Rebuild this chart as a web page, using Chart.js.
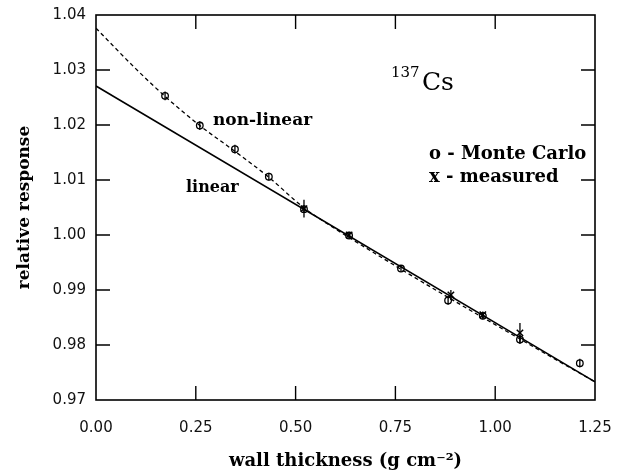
<!DOCTYPE html>
<html><head><meta charset="utf-8">
<script src="https://cdn.jsdelivr.net/npm/chart.js@4"></script>
<style>html,body{margin:0;padding:0;background:#fff}</style>
</head><body>
<canvas id="c" width="620" height="474"></canvas>
<script>
// ---- data ----
const xTickValues = [0, 0.25, 0.5, 0.75, 1.0, 1.25];
const yTickValues = [0.97, 0.98, 0.99, 1.00, 1.01, 1.02, 1.03, 1.04];

const mcThickness = [0.173, 0.26, 0.348, 0.433, 0.521, 0.634, 0.764, 0.882, 0.969, 1.062, 1.212];
const mcResponse  = [1.0253, 1.0199, 1.0156, 1.0106, 1.0047, 0.9999, 0.9939, 0.9881, 0.9853, 0.9810, 0.9767];
const mcError     = [0.0008, 0.0008, 0.0008, 0.0007, 0.0007, 0.0006, 0.0006, 0.0008, 0.0006, 0.0008, 0.0008];

const measThickness = [0.521, 0.634, 0.889, 0.969, 1.062];
const measResponse  = [1.0048, 1.0000, 0.9891, 0.9855, 0.9822];
const measError     = [0.0016, 0.0006, 0.0009, 0.0006, 0.0018];

const linearThickness = [0, 1.25];
const linearResponse  = [1.0271, 0.9733];

const nonLinearThickness = [0, 0.1, 0.173, 0.26, 0.35, 0.433, 0.52, 0.6, 0.7, 0.8, 0.9, 1.0, 1.1, 1.25];
const nonLinearResponse  = [1.0376, 1.0302, 1.0252, 1.0199, 1.0151, 1.0105, 1.0050, 1.0011, 0.9966, 0.9922, 0.9879, 0.9837, 0.9795, 0.9733];

const xTitle = 'wall thickness (g cm\u207B\u00B2)';
const yTitle = 'relative response';

const toPts = (xs, ys) => xs.map((x, i) => ({x: x, y: ys[i]}));

const framePlugin = {
  id: 'frame',
  afterDatasetsDraw(chart) {
    const {ctx, chartArea: a, scales: {x, y}} = chart;
    ctx.save();
    // error bars
    chart.data.datasets.forEach((ds) => {
      if (!ds.errors) return;
      ctx.strokeStyle = '#000';
      ctx.lineWidth = 1.3;
      ctx.beginPath();
      ds.data.forEach((p, j) => {
        const px = x.getPixelForValue(p.x);
        ctx.moveTo(px, y.getPixelForValue(p.y + ds.errors[j]));
        ctx.lineTo(px, y.getPixelForValue(p.y - ds.errors[j]));
      });
      ctx.stroke();
    });
    // frame
    ctx.strokeStyle = '#000';
    ctx.lineWidth = 1.6;
    ctx.strokeRect(a.left, a.top, a.right - a.left, a.bottom - a.top);
    // inward ticks on all four sides
    ctx.lineWidth = 1.4;
    ctx.beginPath();
    const L = 14;
    x.ticks.forEach(t => {
      const px = x.getPixelForValue(t.value);
      if (px <= a.left + 1 || px >= a.right - 1) return;
      ctx.moveTo(px, a.bottom); ctx.lineTo(px, a.bottom - L);
      ctx.moveTo(px, a.top); ctx.lineTo(px, a.top + L);
    });
    y.ticks.forEach(t => {
      const py = y.getPixelForValue(t.value);
      if (py <= a.top + 1 || py >= a.bottom - 1) return;
      ctx.moveTo(a.left, py); ctx.lineTo(a.left + L, py);
      ctx.moveTo(a.right, py); ctx.lineTo(a.right - L, py);
    });
    ctx.stroke();
    // annotations
    ctx.fillStyle = '#000';
    ctx.textBaseline = 'alphabetic';
    ctx.textAlign = 'left';
    ctx.font = 'bold 17px "DejaVu Serif"';
    ctx.fillText('non-linear', x.getPixelForValue(0.293), y.getPixelForValue(1.0200));
    ctx.font = 'bold 16px "DejaVu Serif"';
    ctx.fillText('linear', x.getPixelForValue(0.2255), y.getPixelForValue(1.0078));
    ctx.font = 'bold 18px "DejaVu Serif"';
    ctx.fillText('o - Monte Carlo', x.getPixelForValue(0.834), y.getPixelForValue(1.0138));
    ctx.fillText('x - measured', x.getPixelForValue(0.834), y.getPixelForValue(1.0096));
    ctx.font = '15px "DejaVu Serif"';
    ctx.fillText('137', x.getPixelForValue(0.739), y.getPixelForValue(1.0287));
    ctx.font = '25px "DejaVu Serif"';
    ctx.fillText('Cs', x.getPixelForValue(0.8166), y.getPixelForValue(1.0264));
    ctx.restore();
  }
};

new Chart(document.getElementById('c'), {
  type: 'scatter',
  data: {
    datasets: [
      {label: 'linear', data: toPts(linearThickness, linearResponse), showLine: true,
       borderColor: '#000', borderWidth: 1.6, pointRadius: 0, fill: false},
      {label: 'non-linear', data: toPts(nonLinearThickness, nonLinearResponse), showLine: true,
       borderColor: '#000', borderWidth: 1.3, borderDash: [4, 3], pointRadius: 0, fill: false,
       cubicInterpolationMode: 'monotone'},
      {label: 'Monte Carlo', data: toPts(mcThickness, mcResponse), pointStyle: 'circle',
       pointRadius: 3.3, borderColor: '#000', backgroundColor: 'rgba(0,0,0,0)', borderWidth: 1.3,
       errors: mcError},
      {label: 'measured', data: toPts(measThickness, measResponse), pointStyle: 'crossRot',
       pointRadius: 4.5, borderColor: '#000', backgroundColor: '#000', borderWidth: 1.5,
       errors: measError}
    ]
  },
  options: {
    responsive: false,
    animation: false,
    devicePixelRatio: 1,
    layout: {padding: {top: 15, right: 25, left: 0, bottom: 0}},
    plugins: {legend: {display: false}, tooltip: {enabled: false}},
    scales: {
      x: {
        type: 'linear', min: 0, max: 1.25,
        afterBuildTicks: s => { s.ticks = xTickValues.map(v => ({value: v})); },
        afterFit: s => { s.height = 74; s.paddingLeft = 0; s.paddingRight = 0; },
        grid: {display: false, drawTicks: false},
        border: {display: false},
        ticks: {padding: 19, color: '#111', autoSkip: false, maxRotation: 0,
                font: {family: 'DejaVu Sans', size: 15},
                callback: v => Number(v).toFixed(2)},
        title: {display: true, text: xTitle, color: '#000',
                font: {family: 'DejaVu Serif', weight: 'bold', size: 18},
                padding: {top: 0, bottom: 2}}
      },
      y: {
        type: 'linear', min: 0.97, max: 1.04,
        afterBuildTicks: s => { s.ticks = yTickValues.map(v => ({value: v})); },
        afterFit: s => { s.width = 96; s.paddingTop = 0; s.paddingBottom = 0; },
        grid: {display: false, drawTicks: false},
        border: {display: false},
        ticks: {padding: 10, color: '#111', autoSkip: false,
                font: {family: 'DejaVu Sans', size: 15},
                callback: v => Number(v).toFixed(2)},
        title: {display: true, text: yTitle, color: '#000',
                font: {family: 'DejaVu Serif', weight: 'bold', size: 17},
                padding: {top: 14, bottom: 0}}
      }
    }
  },
  plugins: [framePlugin]
});
</script>
</body></html>
